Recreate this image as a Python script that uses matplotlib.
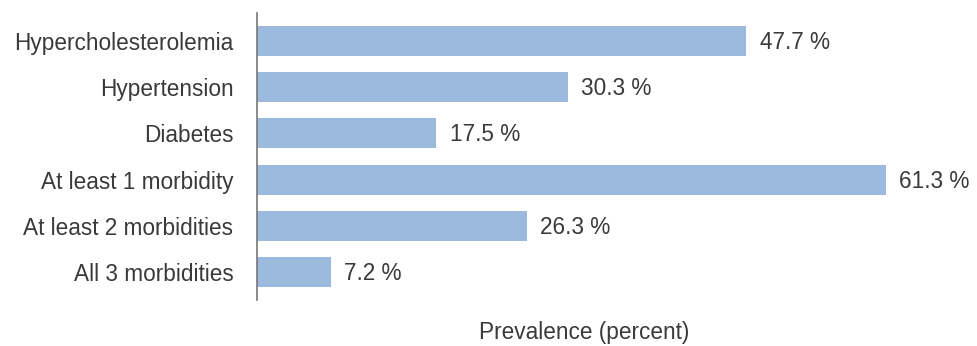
import matplotlib.pyplot as plt

# prevalence of each condition, in percent
conditions = ['Hypercholesterolemia', 'Hypertension', 'Diabetes',
              'At least 1 morbidity', 'At least 2 morbidities', 'All 3 morbidities']
prevalence = [47.7, 30.3, 17.5, 61.3, 26.3, 7.2]

plt.rcParams['font.family'] = ['Liberation Sans', 'DejaVu Sans']
fs = 16.3
tc = '#3a3a3a'

fig = plt.figure(figsize=(9.77, 3.46), dpi=100)
ax = fig.add_axes([257 / 977, 1 - 300 / 346, 720 / 977, 287 / 346])

pos = list(range(len(conditions)))
ax.barh(pos, prevalence, height=0.65, color='#9bbadd')

for y, v in zip(pos, prevalence):
    ax.text(v + 1.3, y + 0.03, f'{v} %', va='center', ha='left', fontsize=fs, color=tc)

ax.set_yticks(pos)
ax.set_yticklabels(conditions, fontsize=fs, color=tc)
ax.tick_params(axis='y', length=0, pad=17)
ax.set_xticks([])
ax.set_xlim(0, 70.2)
ax.set_ylim(5.6, -0.6)

for s in ['top', 'right', 'bottom']:
    ax.spines[s].set_visible(False)
ax.spines['left'].set_color('#777777')
ax.spines['left'].set_linewidth(1.2)

fig.text(584 / 977, 1 - 333 / 346, 'Prevalence (percent)', ha='center', va='center',
         fontsize=fs, color=tc)

fig.savefig('out.png', dpi=100)
